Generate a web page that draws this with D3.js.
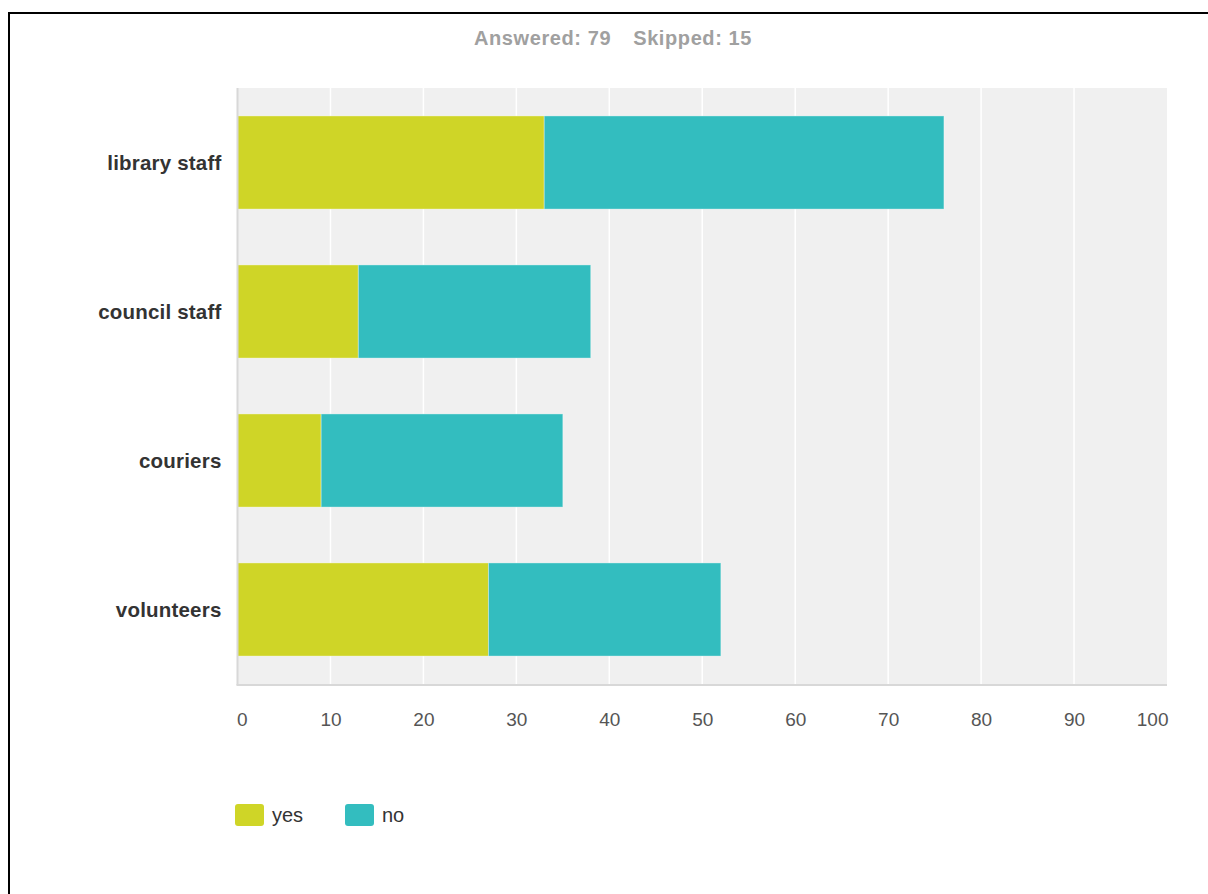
<!DOCTYPE html>
<html>
<head>
<meta charset="utf-8">
<script src="https://cdn.jsdelivr.net/npm/d3@7"></script>
<style>
  html, body { margin: 0; padding: 0; background: #fff; }
  svg { display: block; }
</style>
</head>
<body>
<svg id="chart" width="1208" height="894"></svg>
<script>
// Survey responses per group
const categories = ["library staff", "council staff", "couriers", "volunteers"];
const seriesNames = ["yes", "no"];
const yesValues = [33, 13, 9, 27];
const noValues = [43, 25, 26, 25];
const xTicks = [0, 10, 20, 30, 40, 50, 60, 70, 80, 90, 100];
const answered = 79;
const skipped = 15;

const colors = { yes: "#cfd527", no: "#33bdbf" };
const font = "'Liberation Sans', Arial, sans-serif";

const svg = d3.select("#chart");

// Frame lines along top and left edge
svg.append("line").attr("x1", 9).attr("x2", 1208).attr("y1", 13).attr("y2", 13)
  .attr("stroke", "#000").attr("stroke-width", 2);
svg.append("line").attr("x1", 9).attr("x2", 9).attr("y1", 12).attr("y2", 894)
  .attr("stroke", "#000").attr("stroke-width", 2);

// Header
const header = svg.append("text")
  .attr("x", 613).attr("y", 45)
  .attr("text-anchor", "middle")
  .attr("font-family", font).attr("font-weight", "bold").attr("font-size", 20)
  .attr("letter-spacing", 0.6)
  .attr("fill", "#a0a0a0");
header.append("tspan").text(`Answered: ${answered}`);
header.append("tspan").attr("dx", 22).text(`Skipped: ${skipped}`);

const plot = { left: 237.5, right: 1167, top: 88, bottom: 684 };

const x = d3.scaleLinear().domain([0, 100]).range([plot.left, plot.right]);
const y = d3.scaleBand().domain(categories).range([plot.top, plot.bottom]).paddingInner(0.375).paddingOuter(0.1875);

// Plot background
svg.append("rect")
  .attr("x", plot.left).attr("y", plot.top)
  .attr("width", plot.right - plot.left).attr("height", plot.bottom - plot.top)
  .attr("fill", "#f0f0f0");

// Vertical gridlines
svg.append("g").selectAll("line")
  .data(xTicks.filter(t => t > 0 && t < 100))
  .join("line")
  .attr("x1", d => x(d)).attr("x2", d => x(d))
  .attr("y1", plot.top).attr("y2", plot.bottom)
  .attr("stroke", "#ffffff").attr("stroke-width", 1.5);

// Stacked bars
const rows = categories.map((c, i) => ({ category: c, yes: yesValues[i], no: noValues[i] }));
const stacked = d3.stack().keys(seriesNames)(rows);

svg.append("g").selectAll("g")
  .data(stacked)
  .join("g")
  .attr("fill", d => colors[d.key])
  .selectAll("rect")
  .data(d => d)
  .join("rect")
  .attr("x", d => x(d[0]))
  .attr("y", d => y(d.data.category))
  .attr("width", d => x(d[1]) - x(d[0]))
  .attr("height", y.bandwidth())
  .attr("stroke", "rgba(255,255,255,0.35)")
  .attr("stroke-width", 1);

// Axis lines (left and bottom)
svg.append("line")
  .attr("x1", plot.left).attr("x2", plot.left)
  .attr("y1", plot.top).attr("y2", plot.bottom + 1)
  .attr("stroke", "#d8d8d8").attr("stroke-width", 2);
svg.append("line")
  .attr("x1", plot.left - 1).attr("x2", plot.right)
  .attr("y1", plot.bottom + 1).attr("y2", plot.bottom + 1)
  .attr("stroke", "#d8d8d8").attr("stroke-width", 2);

// X axis tick labels
const xAxis = d3.axisBottom(x).tickValues(xTicks).tickSize(0).tickPadding(0);
const gx = svg.append("g").attr("transform", `translate(0, ${plot.bottom + 42})`).call(xAxis);
gx.select(".domain").remove();
gx.selectAll("text")
  .attr("font-family", font).attr("font-size", 19).attr("fill", "#555")
  .attr("dy", 0)
  .attr("text-anchor", d => d === 100 ? "end" : (d === 0 ? "start" : "middle"))
  .attr("dx", d => d === 100 ? 1 : (d === 0 ? -1 : 0));

// Y axis category labels
const yAxis = d3.axisLeft(y).tickSize(0).tickPadding(16);
const gy = svg.append("g").attr("transform", `translate(${plot.left}, 0)`).call(yAxis);
gy.select(".domain").remove();
gy.selectAll("text")
  .attr("font-family", font).attr("font-weight", "bold").attr("font-size", 20.5)
  .attr("letter-spacing", 0.2)
  .attr("fill", "#333").attr("dy", "0.35em");

// Legend
const legend = svg.append("g").attr("transform", "translate(235, 804)");
const legendItems = legend.selectAll("g")
  .data(seriesNames)
  .join("g")
  .attr("transform", (d, i) => `translate(${i * 110}, 0)`);
legendItems.append("rect")
  .attr("width", 29).attr("height", 22).attr("rx", 3)
  .attr("fill", d => colors[d]);
legendItems.append("text")
  .attr("x", 37).attr("y", 18)
  .attr("font-family", font).attr("font-size", 20).attr("fill", "#333")
  .text(d => d);
</script>
</body>
</html>
